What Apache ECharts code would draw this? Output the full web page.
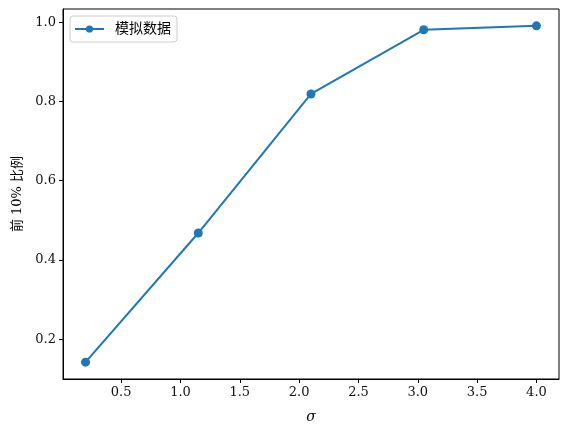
<!DOCTYPE html>
<html>
<head>
<meta charset="utf-8">
<script src="https://cdn.jsdelivr.net/npm/echarts@6/dist/echarts.min.js"></script>
<style>
  html, body { margin: 0; padding: 0; background: #fff; }
  #chart { width: 568px; height: 436px; }
</style>
</head>
<body>
<div id="chart"></div>
<script>
// 数据
var sigma = [0.2, 1.15, 2.1, 3.05, 4.0];
var top10 = [0.142, 0.468, 0.819, 0.981, 0.991];
var xTicks = [0.5, 1.0, 1.5, 2.0, 2.5, 3.0, 3.5, 4.0];
var yTicks = [0.2, 0.4, 0.6, 0.8, 1.0];
var seriesName = '模拟数据';

// matplotlib 风格的 5% 边距
function pad(arr) {
  var lo = Math.min.apply(null, arr), hi = Math.max.apply(null, arr);
  var m = (hi - lo) * 0.05;
  return [lo - m, hi + m];
}
var xr = pad(sigma), yr = pad(top10);

var serif = '"DejaVu Serif", "Noto Sans CJK SC", serif';

var axisCommon = {
  axisLine: { show: true, onZero: false, lineStyle: { color: '#000', width: 1 } },
  axisTick: { show: true, inside: false, length: 4, lineStyle: { color: '#000', width: 1 } },
  splitLine: { show: false },
  axisLabel: { color: '#111', fontSize: 13, fontFamily: serif, margin: 7 }
};

var myChart = echarts.init(document.getElementById('chart'));
var option = {
  animation: false,
  backgroundColor: '#fff',
  grid: { left: 63, right: 9, top: 9, bottom: 57, containLabel: false,
    show: true, borderColor: '#000', borderWidth: 1 },
  legend: {
    left: 70, top: 16,
    padding: [6, 6, 6, 4],
    itemWidth: 29, itemHeight: 9, itemGap: 8,
    borderColor: '#ccc', borderWidth: 1, borderRadius: 3,
    backgroundColor: '#fff',
    textStyle: { color: '#000', fontSize: 14, fontFamily: serif, padding: [0, 0, 0, 6] },
    data: [seriesName]
  },
  xAxis: Object.assign({}, axisCommon, {
    type: 'value',
    min: xr[0], max: xr[1],
    name: 'σ',
    nameLocation: 'middle',
    nameGap: 31,
    nameTextStyle: { color: '#000', fontSize: 14, fontStyle: 'italic', fontFamily: serif },
    axisTick: Object.assign({}, axisCommon.axisTick, { customValues: xTicks }),
    axisLabel: Object.assign({}, axisCommon.axisLabel, {
      customValues: xTicks,
      formatter: function (v) { return v.toFixed(1); }
    })
  }),
  yAxis: Object.assign({}, axisCommon, {
    type: 'value',
    min: yr[0], max: yr[1],
    name: '前 10% 比例',
    nameLocation: 'middle',
    nameGap: 38,
    nameTextStyle: { color: '#000', fontSize: 13, fontFamily: serif },
    axisTick: Object.assign({}, axisCommon.axisTick, { customValues: yTicks }),
    axisLabel: Object.assign({}, axisCommon.axisLabel, {
      customValues: yTicks,
      formatter: function (v) { return v.toFixed(1); }
    })
  }),
  series: [{
    name: seriesName,
    type: 'line',
    data: sigma.map(function (x, i) { return [x, top10[i]]; }),
    symbol: 'circle',
    symbolSize: 9,
    color: '#1f77b4',
    lineStyle: { color: '#1f77b4', width: 2 },
    itemStyle: { color: '#1f77b4' }
  }]
};
myChart.setOption(option);
</script>
</body>
</html>
